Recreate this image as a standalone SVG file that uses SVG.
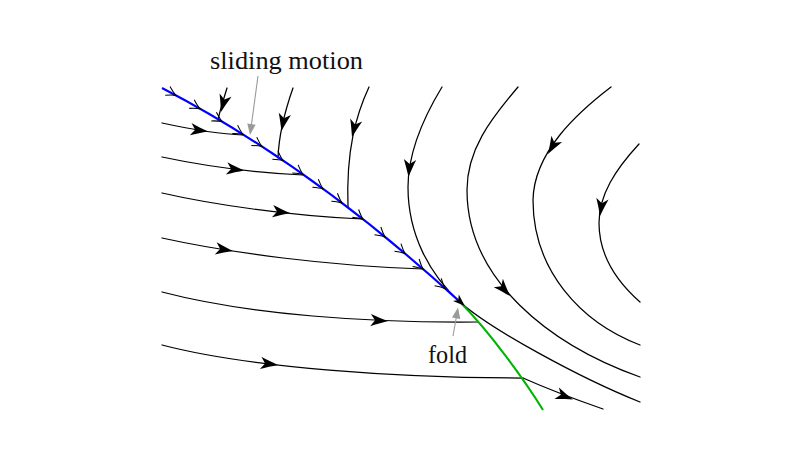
<svg xmlns="http://www.w3.org/2000/svg" xmlns:xlink="http://www.w3.org/1999/xlink" width="800" height="470" viewBox="0 0 800 470">
<defs>
<style>
.traj{fill:none;stroke:#000;stroke-width:1.25;stroke-linecap:round}
.slide{fill:none;stroke:#0000ff;stroke-width:2.1}
.cross{fill:none;stroke:#00b400;stroke-width:2.1}
.ptr{fill:none;stroke:#9a9a9a;stroke-width:1.1}
.lbl{font-family:"Liberation Serif","Times New Roman",serif;font-size:25px;fill:#111}
</style>
<path id="head" d="M0,0 C-5.5,-1.8 -12,-4 -17.5,-6.2 L-13,0 L-17.5,6.2 C-12,4 -5.5,1.8 0,0 Z" fill="#000"/>
<path id="ghead" d="M0,0 L-11,-4.2 L-11,4.2 Z" fill="#9a9a9a"/>
<path id="chev" d="M-9.5,-5 Q-3.5,-1.2 0,0 Q-3.5,1.2 -9.5,5" fill="none" stroke="#000" stroke-width="1.05"/>
</defs>
<rect width="800" height="470" fill="#fff"/>

<g id="left-trajectories">
<path class="traj" d="M162,123 C185,128 215,134 243,135"/>
<path class="traj" d="M162,157 C195,164 240,172 303,175"/>
<path class="traj" d="M162,193 C210,204 290,216 362,219"/>
<path class="traj" d="M162,238 C230,253 330,266 423,269"/>
<path class="traj" d="M162,292 C250,315 370,323 478,322"/>
<path class="traj" d="M162,345 C250,368 400,378 523,378"/>
<use href="#head" transform="translate(208,131.5) rotate(8)"/>
<use href="#head" transform="translate(244,170.5) rotate(7)"/>
<use href="#head" transform="translate(290,213) rotate(6)"/>
<use href="#head" transform="translate(233,251) rotate(9)"/>
<use href="#head" transform="translate(388,321) rotate(3)"/>
<use href="#head" transform="translate(278,365) rotate(7)"/>
</g>

<g id="right-trajectories">
<path class="traj" d="M227,88 C224,98 220,110 218,120"/>
<path class="traj" d="M293,88 C287,105 279,130 278,158"/>
<path class="traj" d="M369,87 C356,115 346,150 348,207"/>
<path class="traj" d="M442,87 C425,115 408,150 408,187 C408,235 430,275 460,302 C490,329 580,378 640,402"/>
<path class="traj" d="M518,87 C490,120 467,150 467,190 C467,280 550,345 640,377"/>
<path class="traj" d="M611,87 C577,113 534,152 533,200 C533,270 580,322 640,345"/>
<path class="traj" d="M639,144 C615,170 599,195 599,223 C599,255 615,280 640,302"/>
<path class="traj" d="M523,378 C550,390 580,401 603,409"/>
<use href="#head" transform="translate(221,112) rotate(105)"/>
<use href="#head" transform="translate(281.5,131) rotate(101)"/>
<use href="#head" transform="translate(352,137) rotate(104)"/>
<use href="#head" transform="translate(408.5,177) rotate(95)"/>
<use href="#head" transform="translate(510,296) rotate(48)"/>
<use href="#head" transform="translate(548,154) rotate(120)"/>
<use href="#head" transform="translate(600,216) rotate(98)"/>
<use href="#head" transform="translate(573,399.5) rotate(21)"/>
</g>

<g id="switching-surface">
<path class="slide" d="M162,88 Q311,165.2 460,302"/>
<path class="cross" d="M460,302 C490,332 525,381 543,410"/>
</g>

<g id="sliding-arrows">
<use href="#chev" transform="translate(176,95.4) rotate(28.2)"/>
<use href="#chev" transform="translate(200,108.7) rotate(29.6)"/>
<use href="#chev" transform="translate(222,121.5) rotate(30.9)"/>
<use href="#chev" transform="translate(243,134.4) rotate(32.1)"/>
<use href="#chev" transform="translate(262,146.5) rotate(33.1)"/>
<use href="#chev" transform="translate(283,160.5) rotate(34.3)"/>
<use href="#chev" transform="translate(303,174.4) rotate(35.3)"/>
<use href="#chev" transform="translate(323,188.8) rotate(36.3)"/>
<use href="#chev" transform="translate(342,203) rotate(37.2)"/>
<use href="#chev" transform="translate(363,219.3) rotate(38.2)"/>
<use href="#chev" transform="translate(385,236.9) rotate(39.3)"/>
<use href="#chev" transform="translate(405,253.6) rotate(40.2)"/>
<use href="#chev" transform="translate(423,269) rotate(41)"/>
<use href="#chev" transform="translate(445,288.4) rotate(41.9)"/>
<use href="#head" transform="translate(465,306) rotate(42) scale(0.7)"/>
</g>

<g id="label-sliding">
<text class="lbl" x="210" y="68.5" textLength="153" lengthAdjust="spacingAndGlyphs">sliding motion</text>
<path class="ptr" d="M258,76 L251.4,125"/>
<use href="#ghead" transform="translate(250,135) rotate(97.6)"/>
</g>

<g id="label-fold">
<text class="lbl" x="428" y="363" textLength="39" lengthAdjust="spacingAndGlyphs">fold</text>
<path class="ptr" d="M453,336 L456.2,318"/>
<use href="#ghead" transform="translate(458,307.5) rotate(-80.2)"/>
</g>
</svg>
